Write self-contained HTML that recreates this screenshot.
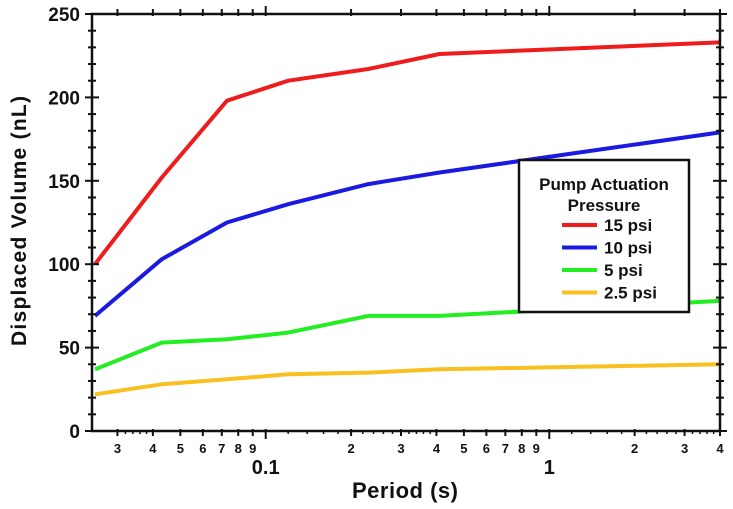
<!DOCTYPE html>
<html><head><meta charset="utf-8"><style>
body{margin:0;background:#fff}
svg text{font-family:"Liberation Sans",Arial,sans-serif;font-weight:bold;fill:#111}
</style></head><body>
<svg id="chart" width="733" height="504" viewBox="0 0 733 504" xmlns="http://www.w3.org/2000/svg">
<g id="series"></g>
<g id="axes"></g>
<g id="legend">
  <rect x="519" y="160" width="170" height="152" fill="#fff" stroke="#111" stroke-width="2.5"/>
  <text x="604" y="190" font-size="17" text-anchor="middle">Pump Actuation</text>
  <text x="604" y="211" font-size="17" text-anchor="middle">Pressure</text>
</g>
<text x="405" y="498" font-size="22" text-anchor="middle" textLength="106">Period (s)</text>
<text transform="translate(26,221) rotate(-90)" font-size="21" text-anchor="middle" textLength="250">Displaced Volume (nL)</text>
</svg>
<script>
const periods=[0.025,0.043,0.073,0.12,0.23,0.41,4];
const seriesNames=["15 psi","10 psi","5 psi","2.5 psi"];
const seriesColors=["#ee1c1c","#1a1ae0","#22ee22","#f8c020"];
const v15=[100,152,198,210,217,226,233];
const v10=[69,103,125,136,148,155,179];
const v5=[37,53,55,59,69,69,78];
const v25=[22,28,31,34,35,37,40];
const yTicks=[0,50,100,150,200,250];
const xMajor=[0.1,1];
const xMinorLabels=[3,4,5,6,7,8,9,20,30,40,50,60,70,80,90,200,300,400];

const NS="http://www.w3.org/2000/svg";
const L=92,R=720,T=14,B=431,xMin=0.0244,xMax=4.0;
function xs(v){return L+(Math.log10(v)-Math.log10(xMin))/(Math.log10(xMax)-Math.log10(xMin))*(R-L);}
function ys(v){return B-(v/250)*(B-T);}
function mk(tag,attrs,parent){const e=document.createElementNS(NS,tag);for(const k in attrs)e.setAttribute(k,attrs[k]);parent.appendChild(e);return e;}
const axes=document.getElementById('axes'),ser=document.getElementById('series'),leg=document.getElementById('legend');

const all=[v15,v10,v5,v25];
all.forEach((vals,i)=>{
  const p=mk('polyline',{points:vals.map((v,j)=>xs(periods[j]).toFixed(1)+','+ys(v).toFixed(1)).join(' '),fill:'none',stroke:seriesColors[i],'stroke-width':4,'stroke-linejoin':'round'},ser);
  
  
  const y=231+i*22.5;
  const ln=mk('line',{x1:562,x2:597,y1:y-6,y2:y-6,stroke:seriesColors[i],'stroke-width':4},leg);
  
  
  const t=mk('text',{x:604,y:y,'font-size':17},leg);
  t.textContent=seriesNames[i];
  
  
});

const frame=mk('rect',{x:L,y:T,width:R-L,height:B-T,fill:'none',stroke:'#111','stroke-width':2.5},axes);


for(let v=0;v<=250;v+=10){
  const y=ys(v),big=v%50===0,len=big?7:4;
  mk('line',{x1:L-len,x2:L+len,y1:y,y2:y,stroke:'#111','stroke-width':2},axes);
  mk('line',{x1:R-len,x2:R+len,y1:y,y2:y,stroke:'#111','stroke-width':2},axes);
}
yTicks.forEach(v=>{
  const t=mk('text',{x:80,y:ys(v)+7,'font-size':19,'text-anchor':'end'},axes);
  t.textContent=v;
  
  
});
for(let d=-2;d<=0;d++){
  for(let m=1;m<=9;m++){
    const v=m*Math.pow(10,d);
    if(v<xMin||v>xMax*1.001)continue;
    const x=xs(v),big=m===1,len=big?8:5;
    mk('line',{x1:x,x2:x,y1:B-2,y2:B+len,stroke:'#111','stroke-width':2},axes);
    mk('line',{x1:x,x2:x,y1:T-len,y2:T+2,stroke:'#111','stroke-width':2},axes);
    if(m<=3){
      for(let k=1;k<5;k++){
        const v2=v+k*0.2*Math.pow(10,d);
        if(v2<xMin||v2>xMax)continue;
        const x2=xs(v2);
        mk('line',{x1:x2,x2:x2,y1:B,y2:B+3,stroke:'#111','stroke-width':1.5},axes);
      }
    }
  }
}
xMinorLabels.forEach(n=>{
  const v=n/100;
  const t=mk('text',{x:xs(v),y:453,'font-size':13,'text-anchor':'middle'},axes);
  t.textContent=String(n).charAt(0);
  
  
});
xMajor.forEach(v=>{
  const t=mk('text',{x:xs(v),y:474,'font-size':20,'text-anchor':'middle'},axes);
  t.textContent=v;
  
  
});
</script>
</body></html>
